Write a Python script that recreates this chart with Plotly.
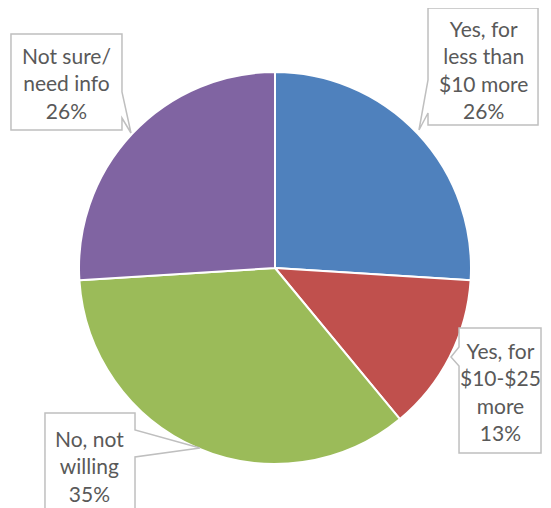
import plotly.graph_objects as go

# the page adds an 8px body margin, so the figure is drawn 8px smaller
OFF = 8
W, H = 551 - OFF, 508 - OFF

labels = ["Yes, for less than $10 more", "Yes, for $10-$25 more", "No, not willing", "Not sure/ need info"]
label_lines = [["Yes, for", "less than", "$10 more"], ["Yes, for", "$10-$25", "more"],
               ["No, not", "willing"], ["Not sure/", "need info"]]
values = [26, 13, 35, 26]
colors = ["#4F81BD", "#C0504D", "#9BBB59", "#8064A2"]

# callout boxes in screen pixels: outline path points, text centre
callouts = [
    ([(428, 8), (538, 8), (538, 125), (428, 125), (428, 113), (419, 130), (428, 80)], (483, 69)),
    ([(459, 328), (541, 328), (541, 453), (459, 453), (459, 366), (451, 357), (459, 347)], (500, 391)),
    ([(45, 413), (135, 413), (135, 430), (200, 448), (135, 457), (135, 515), (45, 515)], (89, 466)),
    ([(11, 34), (122, 34), (122, 92), (131, 133), (122, 118), (122, 130), (11, 130)], (66, 83)),
]


def px(x, y):
    return (x - OFF) / W, 1 - (y - OFF) / H


cx, cy, r = 275, 268, 196
x0, y1 = px(cx - r, cy - r)
x1, y0 = px(cx + r, cy + r)
fig = go.Figure(go.Pie(
    labels=labels, values=values, sort=False, direction="clockwise", rotation=0,
    marker=dict(colors=colors, line=dict(color="white", width=2)),
    textinfo="none", hoverinfo="label+percent",
    domain=dict(x=[x0, x1], y=[y0, y1]),
))

total = sum(values)
for (pts, (tx, ty)), lines, v in zip(callouts, label_lines, values):
    path = "M " + " L ".join(f"{px(x, y)[0]:.4f},{px(x, y)[1]:.4f}" for x, y in pts) + " Z"
    fig.add_shape(type="path", path=path, xref="paper", yref="paper",
                  fillcolor="white", line=dict(color="#BFBFBF", width=1.5), layer="above")
    ax, ay = px(tx, ty)
    fig.add_annotation(x=ax, y=ay, xref="paper", yref="paper", showarrow=False,
                       xanchor="center", yanchor="middle",
                       text="<br>".join(lines + [f"{round(v / total * 100)}%"]),
                       font=dict(family="Lato", size=21, color="#595959"), align="center")

fig.update_layout(width=W, height=H, margin=dict(l=0, r=0, t=0, b=0),
                  showlegend=False, paper_bgcolor="white", plot_bgcolor="white")
fig.write_html("out.html")
